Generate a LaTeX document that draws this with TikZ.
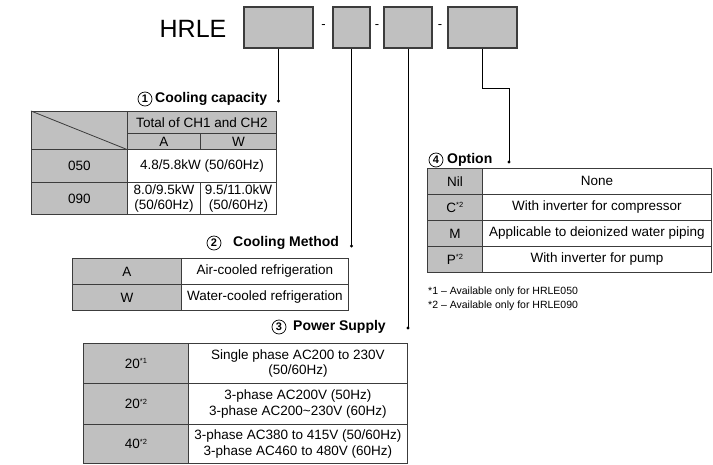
\documentclass[tikz,border=0pt]{standalone}
\usepackage{fontspec}
\setmainfont{Liberation Sans}
\definecolor{cellgray}{RGB}{192,192,192}
\definecolor{linec}{RGB}{60,60,60}
\newcommand\tabf{\fontsize{13.5}{15.5}\selectfont}
\newcommand\lblf{\fontsize{14}{16}\selectfont\bfseries}
\newcommand\numf{\fontsize{11}{12}\selectfont\bfseries}
\newcommand\fnf{\fontsize{10.5}{12}\selectfont}
\newcommand\sups[1]{\raisebox{0.6ex}{\fontsize{7.5}{8}\selectfont #1}}
\begin{document}
\begin{tikzpicture}[x=1pt,y=-1pt,
  hbox/.style={draw=linec, fill=cellgray, line width=1.1pt, minimum height=41pt, inner sep=0pt},
  gcell/.style={draw=linec, fill=cellgray, line width=0.8pt, inner sep=0pt, anchor=north west, align=center, font=\tabf},
  wcell/.style={gcell, fill=white},
  lbl/.style={font=\lblf, anchor=west, inner sep=0pt},
  num/.style={circle, draw=black, line width=0.7pt, minimum size=14pt, inner sep=0pt, font=\numf},
  dotn/.style={circle, fill=black, minimum size=3.2pt, inner sep=0pt},
  conn/.style={draw=black, line width=0.8pt},
  fn/.style={font=\fnf, anchor=west, inner sep=0pt}]
\useasboundingbox (0,0) rectangle (713,464);
\fill[white] (0,0) rectangle (713,464);

% header
\node[font=\fontsize{25}{30}\selectfont, inner sep=0pt] (hrle) at (193,29) {HRLE};
\node[hbox, minimum width=69pt] (b1) at (278.5,27.5) {};
\node[hbox, minimum width=37pt] (b2) at (351.5,27.5) {};
\node[hbox, minimum width=48pt] (b3) at (408,27.5) {};
\node[hbox, minimum width=69pt] (b4) at (482.5,27.5) {};
\node[font=\fontsize{13}{14}\selectfont, inner sep=0pt] (s1) at (323.5,27) {-};
\node[font=\fontsize{13}{14}\selectfont, inner sep=0pt] (s2) at (377,27) {-};
\node[font=\fontsize{13}{14}\selectfont, inner sep=0pt] (s3) at (440,27) {-};

% dots and connectors
\node[dotn] (d1) at (278.5,101) {};
\node[dotn] (d2) at (351.5,246) {};
\node[dotn] (d3) at (408,328) {};
\node[dotn] (d4) at (509,162) {};
\coordinate (e4) at (509,88);
\draw[conn] (b1.south) -- (d1.center);
\draw[conn] (b2.south) -- (d2.center);
\draw[conn] (b3.south) -- (d3.center);
\draw[conn] (b4.south) |- (e4) -- (d4.center);

% section labels
\node[num] (n1) at (145,99) {1};
\node[lbl] (l1) at (155,99) {Cooling capacity};
\node[num] (n2) at (214,243) {2};
\node[lbl] (l2) at (233,243) {Cooling Method};
\node[num] (n3) at (279,327) {3};
\node[lbl] (l3) at (293,327) {Power Supply};
\node[num] (n4) at (436,160) {4};
\node[lbl] (l4) at (447,160) {Option};

% table 1
\node[gcell, minimum width=96pt, minimum height=38pt] (t1c) at (31,111) {};
\draw[draw=linec, line width=0.8pt] (t1c.north west) -- (t1c.south east);
\node[gcell, minimum width=149pt, minimum height=22pt] (t1h) at (127,111) {Total of CH1 and CH2};
\node[gcell, minimum width=73pt, minimum height=16pt] (t1a) at (127,133) {A};
\node[gcell, minimum width=76pt, minimum height=16pt] (t1w) at (200,133) {W};
\node[gcell, minimum width=96pt, minimum height=33pt] (t1r1) at (31,149) {050};
\node[wcell, minimum width=149pt, minimum height=33pt] (t1v1) at (127,149) {4.8/5.8kW (50/60Hz)};
\node[gcell, minimum width=96pt, minimum height=32pt] (t1r2) at (31,182) {090};
\node[wcell, minimum width=73pt, minimum height=32pt] (t1v2a) at (127,182) {8.0/9.5kW\\(50/60Hz)};
\node[wcell, minimum width=76pt, minimum height=32pt] (t1v2w) at (200,182) {9.5/11.0kW\\(50/60Hz)};

% table 2
\node[gcell, minimum width=109pt, minimum height=26pt] (t2a) at (72,258) {A};
\node[wcell, minimum width=167pt, minimum height=26pt] (t2av) at (181,258) {Air-cooled refrigeration};
\node[gcell, minimum width=109pt, minimum height=26pt] (t2w) at (72,284) {W};
\node[wcell, minimum width=167pt, minimum height=26pt] (t2wv) at (181,284) {Water-cooled refrigeration};

% table 3
\node[gcell, minimum width=105pt, minimum height=40pt] (t3a) at (83,343) {20\sups{*1}};
\node[wcell, minimum width=219pt, minimum height=40pt] (t3av) at (188,343) {Single phase AC200 to 230V\\(50/60Hz)};
\node[gcell, minimum width=105pt, minimum height=41pt] (t3b) at (83,383) {20\sups{*2}};
\node[wcell, minimum width=219pt, minimum height=41pt] (t3bv) at (188,383) {3-phase AC200V (50Hz)\\3-phase AC200\textasciitilde 230V (60Hz)};
\node[gcell, minimum width=105pt, minimum height=39pt] (t3c) at (83,424) {40\sups{*2}};
\node[wcell, minimum width=219pt, minimum height=39pt] (t3cv) at (188,424) {3-phase AC380 to 415V (50/60Hz)\\3-phase AC460 to 480V (60Hz)};

% table 4
\node[gcell, minimum width=55pt, minimum height=26pt] (t4a) at (427,168) {Nil};
\node[wcell, minimum width=229pt, minimum height=26pt] (t4av) at (482,168) {None};
\node[gcell, minimum width=55pt, minimum height=26pt] (t4b) at (427,194) {C\sups{*2}};
\node[wcell, minimum width=229pt, minimum height=26pt] (t4bv) at (482,194) {With inverter for compressor};
\node[gcell, minimum width=55pt, minimum height=26pt] (t4c) at (427,220) {M};
\node[wcell, minimum width=229pt, minimum height=26pt] (t4cv) at (482,220) {Applicable to deionized water piping};
\node[gcell, minimum width=55pt, minimum height=26pt] (t4d) at (427,246) {P\sups{*2}};
\node[wcell, minimum width=229pt, minimum height=26pt] (t4dv) at (482,246) {With inverter for pump};

% footnotes
\node[fn] (f1) at (428,292) {*1 – Available only for HRLE050};
\node[fn] (f2) at (428,306) {*2 – Available only for HRLE090};
\end{tikzpicture}
\end{document}
